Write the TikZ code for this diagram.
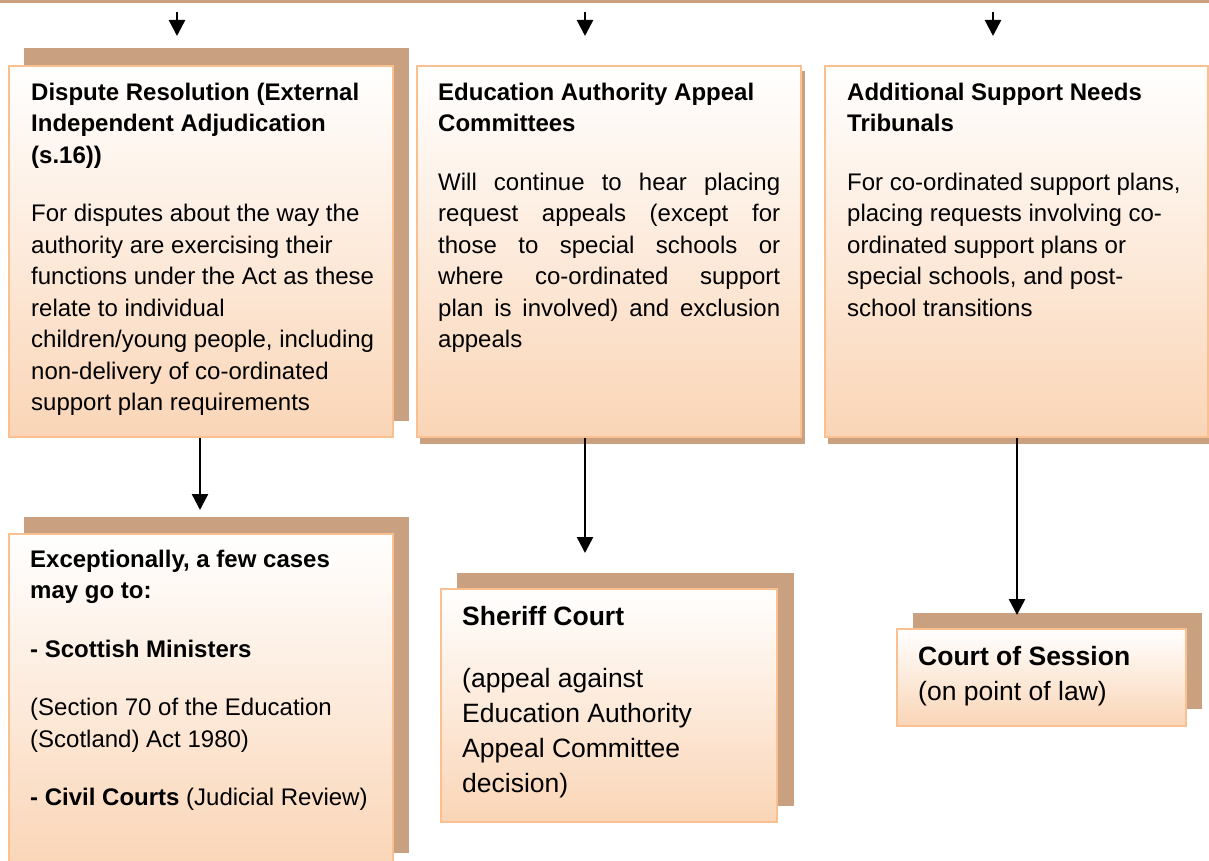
\documentclass[tikz,border=0pt]{standalone}
\usepackage{fontspec}
\setmainfont{Liberation Sans}
\usetikzlibrary{arrows.meta}
\definecolor{tanc}{RGB}{201,161,128}
\definecolor{bordc}{RGB}{250,192,143}
\definecolor{peach}{RGB}{250,213,182}
\newcommand\fst{\rule{0pt}{22pt}}
\newcommand\jl[1]{\makebox[342pt][s]{#1}}
\tikzset{
  box/.style={draw=bordc, line width=2pt, top color=white, bottom color=peach, inner sep=0pt},
  shadowbox/.style={fill=tanc},
  txt/.style={anchor=north west, inner sep=0pt, align=left, font=\fontsize{24}{31.5}\selectfont},
  txtbig/.style={anchor=north west, inner sep=0pt, align=left, font=\fontsize{26.5}{35}\selectfont},
  arr/.style={line width=2.5pt, -{Triangle[length=16pt,width=16pt]}}
}
\begin{document}
\begin{tikzpicture}[x=1pt,y=-1pt]
\useasboundingbox (0,0) rectangle (1209,861);
% top bar
\fill[tanc] (0,0) rectangle (1209,3);
% shadows
\fill[shadowbox] (24,48) rectangle (409,421);
\fill[shadowbox] (420,71) rectangle (805,444);
\fill[shadowbox] (828,71) rectangle (1213,444);
\fill[shadowbox] (24,517) rectangle (409,853);
\fill[shadowbox] (457,573) rectangle (794,806);
\fill[shadowbox] (913,613) rectangle (1202,709);
% boxes
\node[box, minimum width=384pt, minimum height=371pt] (b1) at (201,251.5) {};
\node[box, minimum width=384pt, minimum height=371pt] (b2) at (609,251.5) {};
\node[box, minimum width=383pt, minimum height=371pt] (b3) at (1016.5,251.5) {};
\node[box, minimum width=384pt, minimum height=336pt] (b4) at (201,702) {};
\node[box, minimum width=336pt, minimum height=233pt] (b5) at (609,705.5) {};
\node[box, minimum width=289pt, minimum height=97pt] (b6) at (1041.5,677.5) {};
% texts
\node[txt] (t1) at (31,78) {\fst\textbf{Dispute Resolution (External}\\
\textbf{Independent Adjudication}\\
\textbf{(s.16))}\\[27pt]
For disputes about the way the\\
authority are exercising their\\
functions under the Act as these\\
relate to individual\\
children/young people, including\\
non-delivery of co-ordinated\\
support plan requirements};
\node[txt] (t2) at (438,78) {\fst\textbf{Education Authority Appeal}\\
\textbf{Committees}\\[27pt]
\jl{Will continue to hear placing}\\
\jl{request appeals (except for}\\
\jl{those to special schools or}\\
\jl{where co-ordinated support}\\
\jl{plan is involved) and exclusion}\\
appeals};
\node[txt] (t3) at (847,78) {\fst\textbf{Additional Support Needs}\\
\textbf{Tribunals}\\[27pt]
For co-ordinated support plans,\\
placing requests involving co-\\
ordinated support plans or\\
special schools, and post-\\
school transitions};
\node[txt] (t4) at (30,545) {\fst\textbf{Exceptionally, a few cases}\\
\textbf{may go to:}\\[27pt]
\textbf{- Scottish Ministers}\\[27pt]
(Section 70 of the Education\\
(Scotland) Act 1980)\\[27pt]
\textbf{- Civil Courts} (Judicial Review)};
\node[txtbig] (t5) at (462,603) {\fst\textbf{Sheriff Court}\\[27pt]
(appeal against\\
Education Authority\\
Appeal Committee\\
decision)};
\node[txtbig] (t6) at (918,643) {\fst\textbf{Court of Session}\\
(on point of law)};
% arrows
\coordinate (s1) at (177,12); \coordinate (e1) at (177,36);
\coordinate (s2) at (585,12); \coordinate (e2) at (585,36);
\coordinate (s3) at (993,12); \coordinate (e3) at (993,36);
\draw[arr] (s1) -- (e1);
\draw[arr] (s2) -- (e2);
\draw[arr] (s3) -- (e3);
\coordinate (a1) at (200,510);
\coordinate (a2) at (585,553);
\coordinate (a3) at (1017,615);
\draw[arr] (b1.south -| a1) -- (a1);
\draw[arr] (b2.south -| a2) -- (a2);
\draw[arr] (b3.south -| a3) -- (a3);
\end{tikzpicture}
\end{document}
